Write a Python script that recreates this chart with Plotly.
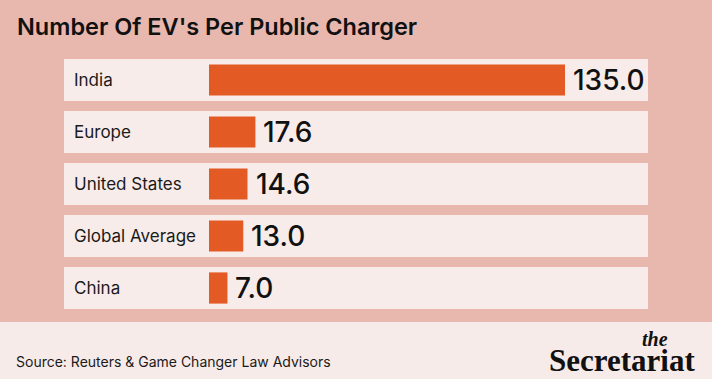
import plotly.graph_objects as go

categories = ["India", "Europe", "United States", "Global Average", "China"]
values = [135.0, 17.6, 14.6, 13.0, 7.0]
value_labels = ["135.0", "17.6", "14.6", "13.0", "7.0"]
title_text = "Number Of EV's Per Public Charger"
source_text = "Source: Reuters &amp; Game Changer Law Advisors"

W, H = 712, 379
ML, MR, MT, MB = 209, 55, 54, 65
PW = W - ML - MR
PH = H - MT - MB

def px(x):
    return (x - ML) / PW

def py(y):
    return (H - MB - y) / PH

BG = "#E8B8AE"
BOX = "#F8ECEA"
FOOT = "#F7EBE9"
BAR = "#E35A24"
TXT = "#1a1a1a"

fig = go.Figure()
fig.add_trace(go.Bar(
    x=values, y=categories, orientation="h",
    marker=dict(color=BAR, line=dict(width=0)),
    width=0.6,
    hoverinfo="skip",
))

shapes = []
for i, c in enumerate(categories):
    shapes.append(dict(type="rect", xref="paper", yref="y",
                       x0=px(64), x1=px(648), y0=i - 0.404, y1=i + 0.404,
                       fillcolor=BOX, line=dict(width=0), layer="below"))
shapes.append(dict(type="rect", xref="paper", yref="paper",
                   x0=px(-10), x1=px(W + 10), y0=py(322), y1=py(H + 10),
                   fillcolor=FOOT, line=dict(width=0), layer="below"))

annotations = []
for c, v, lab in zip(categories, values, value_labels):
    annotations.append(dict(text=c, xref="paper", yref="y", x=px(72), y=c,
                            xanchor="left", yanchor="middle", showarrow=False,
                            font=dict(family="Inter", size=17, color=TXT)))
    annotations.append(dict(text=lab, xref="x", yref="y", x=v, y=c,
                            xanchor="left", yanchor="middle", showarrow=False,
                            xshift=6,
                            font=dict(family="Inter", size=28, color="#111", weight=500)))
annotations.append(dict(text=title_text, xref="paper", yref="paper",
                        x=px(15), y=py(27), xanchor="left", yanchor="middle",
                        showarrow=False,
                        font=dict(family="Inter", size=23.5, color="#111", weight=600)))
annotations.append(dict(text=source_text, xref="paper", yref="paper",
                        x=px(14), y=py(361), xanchor="left", yanchor="middle",
                        showarrow=False,
                        font=dict(family="Inter", size=14, color=TXT)))
annotations.append(dict(text="<i>the</i>", xref="paper", yref="paper",
                        x=px(670), y=py(339), xanchor="right", yanchor="middle",
                        showarrow=False,
                        font=dict(family="Liberation Serif", size=20, color="#111", weight=700)))
annotations.append(dict(text="Secretariat", xref="paper", yref="paper",
                        x=px(697), y=py(360), xanchor="right", yanchor="middle",
                        showarrow=False,
                        font=dict(family="Liberation Serif", size=31, color="#111", weight=700)))

fig.update_layout(
    width=W, height=H,
    margin=dict(l=ML, r=MR, t=MT, b=MB, pad=0),
    paper_bgcolor=BG, plot_bgcolor="rgba(0,0,0,0)",
    showlegend=False,
    xaxis=dict(range=[0, PW / 2.637], visible=False, fixedrange=True),
    yaxis=dict(autorange="reversed", visible=False, fixedrange=True),
    shapes=shapes, annotations=annotations,
    bargap=0.4,
)

fig.write_html("out.html", config={"displayModeBar": False},
               post_script="document.body.style.margin='0';document.body.style.overflow='hidden';")
